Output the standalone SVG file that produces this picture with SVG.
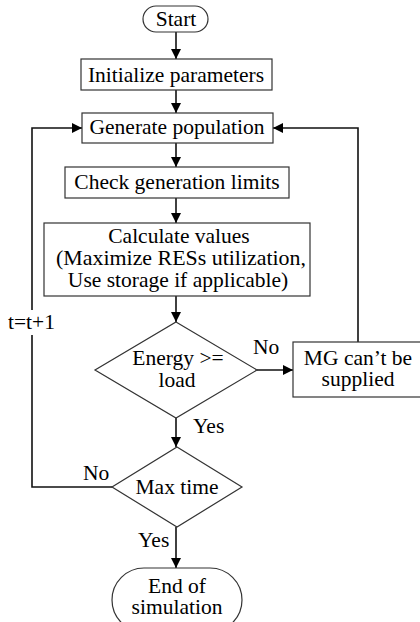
<svg xmlns="http://www.w3.org/2000/svg" width="420" height="622" viewBox="0 0 420 622">
<defs>
<marker id="ah" markerWidth="10" markerHeight="10" refX="10" refY="5" orient="auto" markerUnits="userSpaceOnUse">
<path d="M0,0 L10,5 L0,10 Z" fill="#000"/>
</marker>
<style>
text{font-family:'Liberation Serif','Times New Roman',serif;font-size:21.5px;fill:#000;text-anchor:middle}
.n{fill:#fff;stroke:#333;stroke-width:1.2}
.ca{fill:none;stroke:#111;stroke-width:1.6;marker-end:url(#ah)}
.l{text-anchor:start}
</style>
</defs>
<g id="connectors">
<path class="ca" d="M176,32 V59"/>
<path class="ca" d="M176,90 V113"/>
<path class="ca" d="M176,143 V167"/>
<path class="ca" d="M176,198 V223"/>
<path class="ca" d="M176,296 V322"/>
<path class="ca" d="M257,370 H293"/>
<path class="ca" d="M358,342 V128 H273"/>
<path class="ca" d="M176,418 V447"/>
<path class="ca" d="M112,487 H32 V128 H82"/>
<path class="ca" d="M176,527 V568"/>
<rect x="6" y="310" width="52" height="25" fill="#fff"/>
<text class="l" x="8" y="329">t=t+1</text>
<text class="l" x="253" y="354">No</text>
<text class="l" x="193" y="433">Yes</text>
<text class="l" x="83" y="480">No</text>
<text class="l" x="138" y="547">Yes</text>
</g>
<g id="start">
<rect class="n" x="143" y="6" width="65" height="26" rx="13"/>
<text x="176" y="26">Start</text>
</g>
<g id="init">
<rect class="n" x="81" y="59" width="191" height="31"/>
<text x="176" y="82">Initialize parameters</text>
</g>
<g id="generate">
<rect class="n" x="82" y="113" width="191" height="30"/>
<text x="177" y="134">Generate population</text>
</g>
<g id="check">
<rect class="n" x="65" y="167" width="224" height="31"/>
<text x="177" y="189">Check generation limits</text>
</g>
<g id="calc">
<rect class="n" x="44" y="223" width="266" height="73"/>
<text x="179" y="243">Calculate values</text>
<text x="181" y="265" textLength="250" lengthAdjust="spacingAndGlyphs">(Maximize RESs utilization,</text>
<text x="178" y="287">Use storage if applicable)</text>
</g>
<g id="energy">
<polygon class="n" points="176,322 257,370 176,418 95,370"/>
<text x="178" y="365">Energy &gt;=</text>
<text x="177" y="387">load</text>
</g>
<g id="mg">
<rect class="n" x="293" y="342" width="135" height="55"/>
<text x="358" y="365">MG can’t be</text>
<text x="358" y="386">supplied</text>
</g>
<g id="maxtime">
<polygon class="n" points="177,447 242,487 177,527 112,487"/>
<text x="177" y="494">Max time</text>
</g>
<g id="end">
<rect class="n" x="112" y="568" width="130" height="64" rx="32" ry="32"/>
<text x="177" y="593">End of</text>
<text x="177" y="614">simulation</text>
</g>
</svg>
